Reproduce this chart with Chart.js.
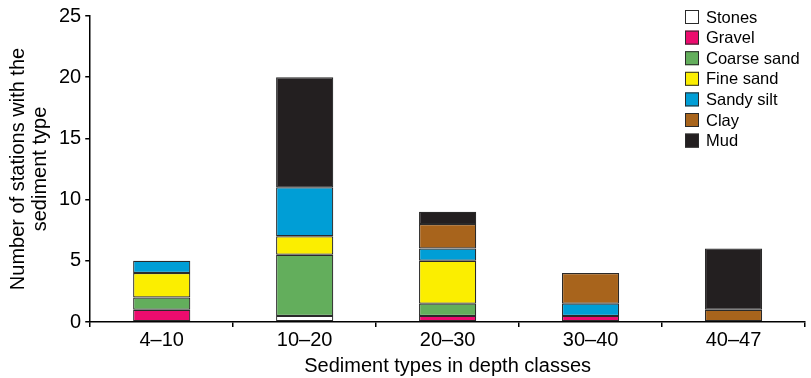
<!DOCTYPE html>
<html>
<head>
<meta charset="utf-8">
<script src="https://cdn.jsdelivr.net/npm/chart.js@4"></script>
<style>
  html, body { margin: 0; padding: 0; background: #fff; }
  #wrap { width: 811px; height: 378px; }
</style>
</head>
<body>
<div id="wrap"><canvas id="chart"></canvas></div>
<script>
const categories = ['4–10', '10–20', '20–30', '30–40', '40–47'];
const stones     = [null, 0.5, null, null, null];
const gravel     = [1, null, 0.5, 0.5, null];
const coarseSand = [1, 5, 1, null, null];
const fineSand   = [2, 1.5, 3.5, null, null];
const sandySilt  = [1, 4, 1, 1, null];
const clay       = [null, null, 2, 2.5, 1];
const mud        = [null, 9, 1, null, 5];
const yTicks     = [0, 5, 10, 15, 20, 25];

const font = 'Liberation Sans, Arial, sans-serif';

function ds(label, data, color) {
    return {
        label: label,
        data: data,
        backgroundColor: color,
        borderColor: '#2a2a2a',
        borderWidth: 1.2,
        borderSkipped: false,
        barPercentage: 0.4,
        categoryPercentage: 1
    };
}

// legend drawn inside the plot, top right
const boxLegend = {
    id: 'boxLegend',
    afterDraw(chart) {
        const ctx = chart.ctx;
        const x = 685, y0 = 10, step = 20.6, size = 14;
        ctx.save();
        ctx.font = '16.5px ' + font;
        ctx.textBaseline = 'middle';
        chart.data.datasets.forEach((d, i) => {
            const y = y0 + i * step;
            ctx.fillStyle = d.backgroundColor;
            ctx.fillRect(x, y, size, size);
            ctx.strokeStyle = '#2a2a2a';
            ctx.lineWidth = 1;
            ctx.strokeRect(x + 0.5, y + 0.5, size - 1, size - 1);
            ctx.fillStyle = '#000';
            ctx.fillText(d.label, x + 21, y + size / 2 + 1);
        });
        ctx.restore();
    }
};

new Chart(document.getElementById('chart'), {
    type: 'bar',
    data: {
        labels: categories,
        datasets: [
            ds('Stones', stones, '#ffffff'),
            ds('Gravel', gravel, '#ec0c6e'),
            ds('Coarse sand', coarseSand, '#63ae5c'),
            ds('Fine sand', fineSand, '#fbee00'),
            ds('Sandy silt', sandySilt, '#009ed6'),
            ds('Clay', clay, '#a8641c'),
            ds('Mud', mud, '#231f20')
        ]
    },
    options: {
        responsive: true,
        maintainAspectRatio: false,
        animation: false,
        layout: { padding: { top: 15, right: 6, left: 7, bottom: 0 } },
        plugins: {
            legend: { display: false },
            tooltip: { enabled: false }
        },
        scales: {
            x: {
                stacked: true,
                offset: true,
                border: { color: '#000', width: 1.5 },
                grid: { offset: true, drawOnChartArea: false, drawTicks: true, tickLength: 5, color: '#000', lineWidth: 1.5 },
                ticks: { color: '#000', font: { family: font, size: 20 }, padding: 1 },
                title: {
                    display: true,
                    text: 'Sediment types in depth classes',
                    color: '#000',
                    font: { family: font, size: 20 },
                    padding: { top: 1, bottom: 0 }
                }
            },
            y: {
                stacked: true,
                min: 0,
                max: 25,
                afterBuildTicks: axis => { axis.ticks = yTicks.map(v => ({ value: v })); },
                border: { color: '#000', width: 1.5 },
                grid: { drawOnChartArea: false, drawTicks: true, tickLength: 5, color: '#000', lineWidth: 1.5 },
                ticks: { color: '#000', font: { family: font, size: 20 }, padding: 4 },
                title: {
                    display: true,
                    text: ['Number of stations with the', 'sediment type'],
                    color: '#000',
                    font: { family: font, size: 20, lineHeight: 1.1 },
                    padding: { top: 0, bottom: 4 }
                }
            }
        }
    },
    plugins: [boxLegend]
});
</script>
</body>
</html>
